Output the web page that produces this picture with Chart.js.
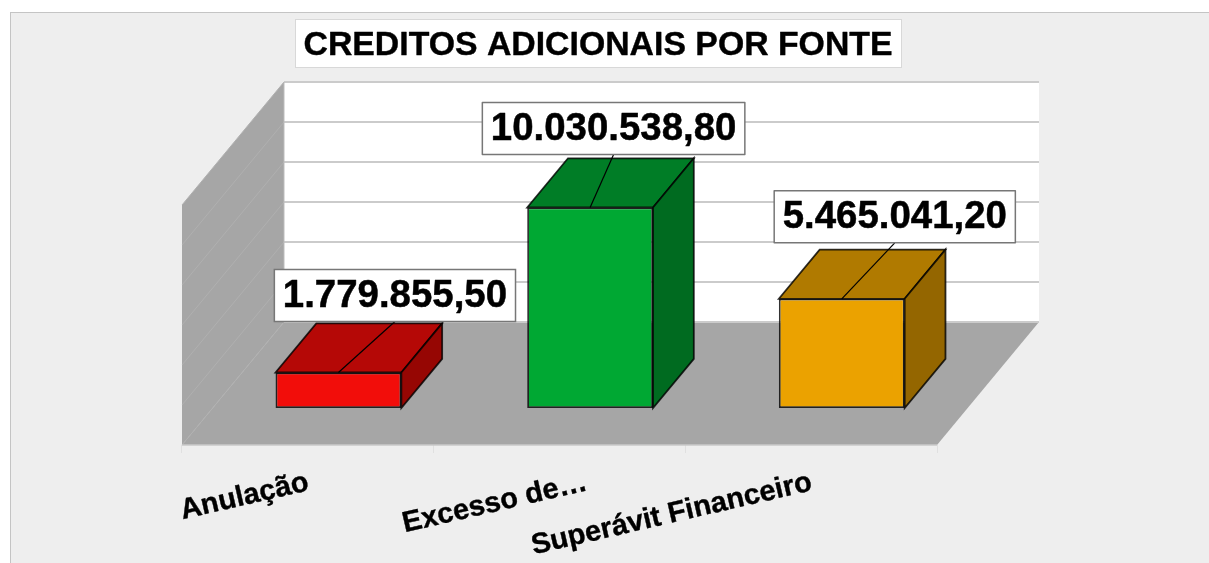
<!DOCTYPE html>
<html lang="pt">
<head>
<meta charset="utf-8">
<title>Creditos adicionais por fonte</title>
<script src="https://cdn.jsdelivr.net/npm/chart.js@4"></script>
<style>
    html, body { margin: 0; padding: 0; background: #fff; overflow: hidden; }
    #panel { position: absolute; left: 10px; top: 12px; width: 1199px; height: 551px; box-sizing: border-box;
             background: #eee; border: 1px solid #c4c4c4; border-right: 0; border-bottom: 0; }
    #chart { position: absolute; left: 0; top: 0; }
</style>
</head>
<body>
<div id="panel"></div>
<canvas id="chart" width="1209" height="563"></canvas>
<script>
const titleText = 'CREDITOS ADICIONAIS POR FONTE';
const categories = ['Anulação', 'Excesso de…', 'Superávit Financeiro'];
const values = [1779855.5, 10030538.8, 5465041.2];
const valueLabels = ['1.779.855,50', '10.030.538,80', '5.465.041,20'];
const axisMax = 12000000;
const axisStep = 2000000;

const frontColors = ['#f20d0a', '#00a833', '#eba200'];
const topColors = ['#b50806', '#007d26', '#b07a00'];
const sideColors = ['#960603', '#006b20', '#946600'];

// Depth of the fake 3D box, in pixels: the chart area is its front plane.
const DEPTH = { x: 102, y: 123 };
const BAR_START = 0.3;   // bars stand this far back on the floor
const BAR_DEPTH = 0.4;   // and are this deep
const BOX_H = 52;
// where each value box sits, relative to the front-top centre of its bar
const LABEL_SHIFT = [{ x: 56.5, y: -51 }, { x: 23.5, y: -53 }, { x: 53, y: -56 }];
// the middle category label sits off its tick in the original
const TICK_SHIFT = [-3, 24, -3];
const TICK_ROTATION = -13 * Math.PI / 180;
const FONT = '"Liberation Sans", Arial, sans-serif';

function poly(ctx, pts, fill, stroke, lw) {
    ctx.beginPath();
    pts.forEach((p, i) => (i ? ctx.lineTo(p[0], p[1]) : ctx.moveTo(p[0], p[1])));
    ctx.closePath();
    if (fill) { ctx.fillStyle = fill; ctx.fill(); }
    if (stroke) { ctx.strokeStyle = stroke; ctx.lineWidth = lw || 1; ctx.stroke(); }
}

function line(ctx, x1, y1, x2, y2, color, lw) {
    ctx.beginPath();
    ctx.moveTo(x1, y1);
    ctx.lineTo(x2, y2);
    ctx.strokeStyle = color;
    ctx.lineWidth = lw;
    ctx.stroke();
}

// Liberation Bold is a little lighter than the original face, so thicken it.
function boldText(ctx, text, x, y, weight) {
    ctx.fillStyle = '#000';
    ctx.strokeStyle = '#000';
    ctx.lineWidth = weight;
    ctx.lineJoin = 'round';
    ctx.strokeText(text, x, y);
    ctx.fillText(text, x, y);
}

const box3d = {
    id: 'box3d',
    beforeDatasetsDraw(chart) {
        const { ctx, chartArea: a, scales } = chart;
        const dx = DEPTH.x, dy = DEPTH.y;
        ctx.save();
        // back wall, left wall, floor
        poly(ctx, [[a.left + dx, a.top - dy], [a.right + dx, a.top - dy], [a.right + dx, a.bottom - dy], [a.left + dx, a.bottom - dy]], '#fff');
        poly(ctx, [[a.left, a.top], [a.left + dx, a.top - dy], [a.left + dx, a.bottom - dy], [a.left, a.bottom]], '#a6a6a6');
        poly(ctx, [[a.left, a.bottom], [a.right, a.bottom], [a.right + dx, a.bottom - dy], [a.left + dx, a.bottom - dy]], '#a6a6a6');
        scales.y.ticks.forEach(t => {
            const y = scales.y.getPixelForValue(t.value);
            line(ctx, a.left, y, a.left + dx, y - dy, '#b0b0b0', 1);
            line(ctx, a.left + dx, y - dy, a.right + dx, y - dy, '#cbcbcb', 2);
        });
        line(ctx, a.left + dx, a.top - dy, a.left + dx, a.bottom - dy, '#bdbdbd', 1);
        line(ctx, a.left, a.bottom, a.right, a.bottom, '#c8c8c8', 1.5);
        ctx.restore();
        // the bars themselves are pushed back onto the floor
        ctx.save();
        ctx.translate(dx * BAR_START, -dy * BAR_START);
    },
    afterDatasetsDraw(chart) {
        const { ctx } = chart;
        const dx = DEPTH.x * BAR_DEPTH, dy = DEPTH.y * BAR_DEPTH;
        const bars = chart.getDatasetMeta(0).data;
        const outline = 'rgba(0,0,0,0.8)';
        bars.forEach((bar, i) => {
            const l = bar.x - bar.width / 2, r = bar.x + bar.width / 2;
            poly(ctx, [[l, bar.y], [l + dx, bar.y - dy], [r + dx, bar.y - dy], [r, bar.y]], topColors[i], outline, 1.8);
            poly(ctx, [[r, bar.y], [r + dx, bar.y - dy], [r + dx, bar.base - dy], [r, bar.base]], sideColors[i], outline, 1.8);
        });
        // value boxes with their leader lines
        ctx.font = 'bold 38.4px ' + FONT;
        ctx.textAlign = 'center';
        ctx.textBaseline = 'middle';
        bars.forEach((bar, i) => {
            const cx = bar.x + LABEL_SHIFT[i].x, bottom = bar.y + LABEL_SHIFT[i].y;
            const w = ctx.measureText(valueLabels[i]).width + 17;
            line(ctx, bar.x, bar.y, cx, bottom, '#000', 1.2);
            ctx.fillStyle = '#fff';
            ctx.fillRect(cx - w / 2, bottom - BOX_H, w, BOX_H);
            ctx.strokeStyle = '#777';
            ctx.lineWidth = 1.5;
            ctx.strokeRect(cx - w / 2, bottom - BOX_H, w, BOX_H);
            boldText(ctx, valueLabels[i], cx, bottom - BOX_H / 2 + 1, 0.5);
        });
        ctx.restore();
    },
    afterDraw(chart) {
        const { ctx, chartArea: a, scales } = chart;
        ctx.save();
        // category labels, right end anchored under each tick
        ctx.font = 'bold 29px ' + FONT;
        ctx.textAlign = 'right';
        ctx.textBaseline = 'top';
        categories.forEach((label, i) => {
            ctx.save();
            ctx.translate(scales.x.getPixelForTick(i) + TICK_SHIFT[i], a.bottom + 23);
            ctx.rotate(TICK_ROTATION);
            boldText(ctx, label, 0, 0, 0.4);
            ctx.restore();
        });
        // title box
        ctx.fillStyle = '#fff';
        ctx.strokeStyle = '#d8d8d8';
        ctx.lineWidth = 1;
        ctx.fillRect(296, 20, 605, 47);
        ctx.strokeRect(295.5, 19.5, 606, 48);
        ctx.font = 'bold 33.8px ' + FONT;
        ctx.textAlign = 'center';
        ctx.textBaseline = 'middle';
        boldText(ctx, titleText, 598, 46, 0.4);
        ctx.restore();
    },
};

new Chart(document.getElementById('chart'), {
    type: 'bar',
    data: {
        labels: categories,
        datasets: [{
            data: values,
            backgroundColor: frontColors,
            borderColor: 'rgba(0,0,0,0.8)',
            borderWidth: 1.8,
            borderSkipped: false,
            barPercentage: 0.5,
            categoryPercentage: 1,
            clip: false,
        }],
    },
    options: {
        responsive: false,
        animation: false,
        events: [],
        layout: { padding: { left: 182, top: 205, right: 272, bottom: 0 } },
        plugins: { legend: { display: false }, tooltip: { enabled: false }, title: { display: false } },
        scales: {
            x: {
                grid: { drawOnChartArea: false, color: '#e0e0e0', tickLength: 8 },
                border: { display: false },
                afterFit: s => { s.height = 118; },
                ticks: { display: false, autoSkip: false },
            },
            y: { display: false, min: 0, max: axisMax, ticks: { stepSize: axisStep } },
        },
    },
    plugins: [box3d],
});
</script>
</body>
</html>
